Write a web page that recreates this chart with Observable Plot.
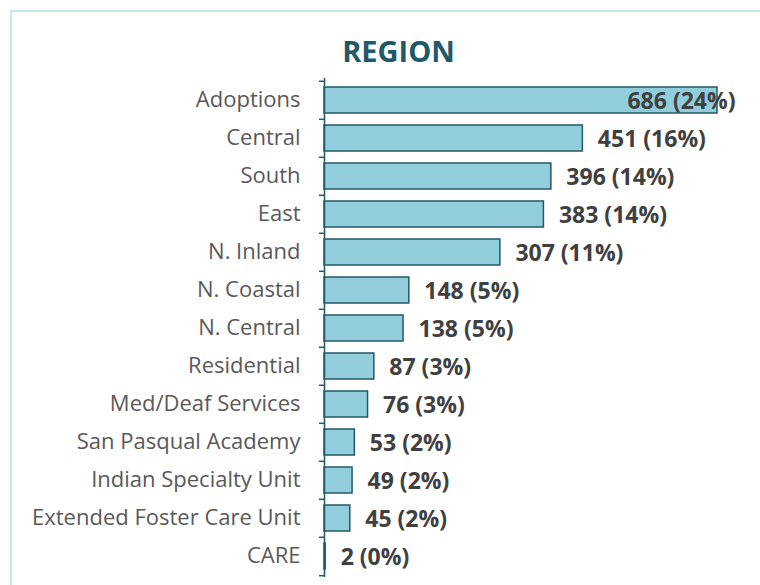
<!DOCTYPE html>
<html>
<head>
<meta charset="utf-8">
<script src="https://cdn.jsdelivr.net/npm/d3@7"></script>
<script src="https://cdn.jsdelivr.net/npm/@observablehq/plot@0.6"></script>
<style>
  html, body { margin: 0; padding: 0; background: #fff; overflow: hidden; }
  #wrap { position: relative; width: 760px; height: 585px; overflow: hidden; font-family: "Open Sans", sans-serif; }
  #frame { position: absolute; left: 10px; top: 10px; width: 820px; height: 640px; border: 2px solid #c3e5ef; box-sizing: border-box; }
  #title { position: absolute; left: 0; width: 797px; top: 31px; text-align: center; font-weight: 700; font-size: 29px; color: #215968; line-height: 40px; }
  #chart { position: absolute; left: 0; top: 0; }
</style>
</head>
<body>
<div id="wrap">
  <div id="frame"></div>
  <div id="title">REGION</div>
  <div id="chart"></div>
</div>
<script>
const categories = ["Adoptions", "Central", "South", "East", "N. Inland", "N. Coastal", "N. Central", "Residential", "Med/Deaf Services", "San Pasqual Academy", "Indian Specialty Unit", "Extended Foster Care Unit", "CARE"];
const counts = [686, 451, 396, 383, 307, 148, 138, 87, 76, 53, 49, 45, 2];
const percents = ["24%", "16%", "14%", "14%", "11%", "5%", "5%", "3%", "3%", "2%", "2%", "2%", "0%"];

const data = categories.map((c, i) => ({category: c, value: counts[i], label: `${counts[i]} (${percents[i]})`}));
const maxValue = d3.max(counts);

const W = 760, H = 585, mt = 78, mb = 8, ml = 324, mr = 43;
const step = (H - mt - mb) / categories.length;
const teal = "#215968";

const chart = Plot.plot({
  width: W,
  height: H,
  marginTop: mt,
  marginBottom: mb,
  marginLeft: ml,
  marginRight: mr,
  style: {fontFamily: "Open Sans, sans-serif", background: "transparent", overflow: "visible"},
  x: {domain: [0, maxValue], axis: null},
  y: {domain: categories, paddingInner: 0.32, paddingOuter: 0.16, label: null},
  marks: [
    Plot.axisY({tickSize: 0, tickPadding: 24, fontSize: 22, fill: "#595959", label: null, dy: -1}),
    Plot.barX(data, {y: "category", x: "value", fill: "#92cddc", stroke: teal, strokeWidth: 1.5}),
    Plot.ruleX([0], {stroke: teal, strokeWidth: 1.5}),
    Plot.ruleY(data, {y: "category", x1: 0, x2: 0, insetLeft: -5, dy: -step / 2, stroke: teal, strokeWidth: 1.5}),
    Plot.ruleY(data.slice(-1), {y: "category", x1: 0, x2: 0, insetLeft: -5, dy: step / 2, stroke: teal, strokeWidth: 1.5}),
    Plot.text(data.filter(d => d.value < maxValue), {y: "category", x: "value", text: "label", textAnchor: "start", dx: 15, dy: 1, fontSize: 23, fontWeight: 700, fill: "#404040"}),
    Plot.text(data.filter(d => d.value === maxValue), {y: "category", x: "value", text: "label", textAnchor: "end", dx: 18, dy: 1, fontSize: 23, fontWeight: 700, fill: "#404040"})
  ]
});
document.getElementById("chart").appendChild(chart);
</script>
</body>
</html>
